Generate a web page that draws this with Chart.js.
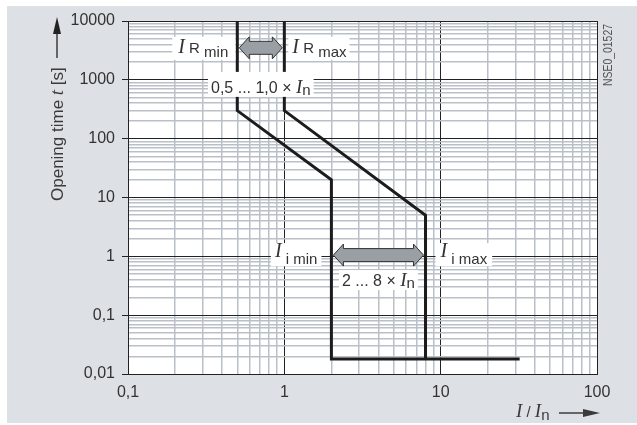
<!DOCTYPE html>
<html><head><meta charset="utf-8">
<script src="https://cdn.jsdelivr.net/npm/chart.js@4/dist/chart.umd.min.js"></script>
<style>html,body{margin:0;padding:0;background:#fff;}canvas{display:block;}</style>
</head><body>
<canvas id="c" width="637" height="425"></canvas>
<script>
// ---- data ----
const xMajorValues = [0.1, 1, 10, 100];
const xTickLabels = ['0,1', '1', '10', '100'];
const yMajorValues = [0.01, 0.1, 1, 10, 100, 1000, 10000];
const yTickLabels = ['0,01', '0,1', '1', '10', '100', '1000', '10000'];

const minCurveI = [0.5, 0.5, 2, 2, 32];
const minCurveT = [10000, 300, 20, 0.018, 0.018];
const maxCurveI = [1, 1, 8, 8];
const maxCurveT = [10000, 300, 5, 0.018];

// annotation anchors (data units)
const rangeR = [0.5, 1];
const rangeI = [2, 8];
const arrowRT = 3500;
const rangeRTextT = 730;
const arrowIT = 1.05;
const rangeITextT = 0.38;

const yTitle = 'Opening time ';
const drawingId = 'NSE0_01527';

// ---- helpers ----
function gridValues(majors) {
  const out = [];
  for (let i = 0; i < majors.length - 1; i++) {
    for (let k = 1; k <= 9; k++) out.push(Number((k * majors[i]).toPrecision(12)));
  }
  out.push(majors[majors.length - 1]);
  return out;
}
function isMajor(v) { const l = Math.log10(v); return Math.abs(l - Math.round(l)) < 1e-9; }
function labelFor(v, majors, labels) {
  for (let i = 0; i < majors.length; i++) if (Math.abs(v / majors[i] - 1) < 1e-9) return labels[i];
  return '';
}
const SANS = '"Liberation Sans", Arial, Helvetica, sans-serif';
const SERIF = '"Liberation Serif", "Times New Roman", serif';
const TXT = '#333';

function richWidth(ctx, segs) { let w = 0; segs.forEach(s => { ctx.font = s.font; w += ctx.measureText(s.t).width; }); return w; }
function drawRich(ctx, segs, x, base) {
  let cx = x;
  segs.forEach(s => { ctx.font = s.font; ctx.fillStyle = s.color || TXT; ctx.fillText(s.t, cx, base + (s.dy || 0)); cx += ctx.measureText(s.t).width; });
}
function label(ctx, segs, x, align, base, boxTop, boxBot, padL, padR) {
  const w = richWidth(ctx, segs);
  let left = align === 'right' ? x - w : align === 'center' ? x - w / 2 : x;
  ctx.fillStyle = '#fff';
  ctx.fillRect(left - padL, boxTop, w + padL + padR, boxBot - boxTop);
  ctx.textAlign = 'left'; ctx.textBaseline = 'alphabetic';
  drawRich(ctx, segs, left, base);
}
function dblArrow(ctx, x1, x2, y) {
  const hb = 6.5, hh = 11, hl = 10;
  ctx.beginPath();
  ctx.moveTo(x1, y);
  ctx.lineTo(x1 + hl, y - hh);
  ctx.lineTo(x1 + hl, y - hb);
  ctx.lineTo(x2 - hl, y - hb);
  ctx.lineTo(x2 - hl, y - hh);
  ctx.lineTo(x2, y);
  ctx.lineTo(x2 - hl, y + hh);
  ctx.lineTo(x2 - hl, y + hb);
  ctx.lineTo(x1 + hl, y + hb);
  ctx.lineTo(x1 + hl, y + hh);
  ctx.closePath();
  ctx.fillStyle = '#9a9fa5';
  ctx.fill();
  ctx.strokeStyle = '#333';
  ctx.lineWidth = 1;
  ctx.stroke();
}

const bgPlugin = {
  id: 'bg',
  beforeDraw(chart) {
    const ctx = chart.ctx, a = chart.chartArea;
    ctx.save();
    ctx.fillStyle = '#fff';
    ctx.fillRect(0, 0, chart.width, chart.height);
    ctx.fillStyle = '#dde1e5';
    ctx.fillRect(7, 6, chart.width - 7, 417);
    ctx.fillStyle = '#fff';
    ctx.fillRect(a.left, a.top, a.right - a.left, a.bottom - a.top);
    ctx.restore();
  }
};

const annoPlugin = {
  id: 'anno',
  afterDatasetsDraw(chart) {
    const ctx = chart.ctx, xs = chart.scales.x, ys = chart.scales.y;
    const px = v => xs.getPixelForValue(v), py = v => ys.getPixelForValue(v);
    ctx.save();
    const iBig = 'italic 20px ' + SERIF, sub = '15px ' + SANS, num = '16px ' + SANS;

    // R range
    const yR = py(arrowRT);
    dblArrow(ctx, px(rangeR[0]) + 2, px(rangeR[1]) - 2, yR);
    label(ctx, [{t: 'I', font: iBig}, {t: ' R', font: sub}, {t: ' min', font: sub, dy: 4}],
      px(rangeR[0]) - 9, 'right', yR + 5, yR - 11, yR + 12, 6, 7);
    label(ctx, [{t: 'I', font: iBig}, {t: ' R', font: sub}, {t: ' max', font: sub, dy: 4}],
      px(rangeR[1]) + 8, 'left', yR + 5, yR - 11, yR + 12, 4, 3);
    const yRt = py(rangeRTextT);
    label(ctx, [{t: '0,5 ... 1,0 \u00d7 ', font: num}, {t: 'I', font: 'italic 19px ' + SERIF}, {t: 'n', font: sub, dy: 2}],
      px(Math.sqrt(rangeR[0] * rangeR[1])), 'center', yRt + 5.5, yRt - 16, yRt + 9, 3, 3);

    // I range
    const yI = py(arrowIT);
    dblArrow(ctx, px(rangeI[0]) + 2, px(rangeI[1]) - 2, yI);
    label(ctx, [{t: 'I', font: iBig}, {t: ' i min', font: sub, dy: 7}],
      px(rangeI[0]) - 14, 'right', yI + 2, yI - 12, yI + 11, 4, 4);
    label(ctx, [{t: 'I', font: iBig}, {t: ' i max', font: sub, dy: 7}],
      px(rangeI[1]) + 15, 'left', yI + 2, yI - 12, yI + 11, 5, 5);
    const yIt = py(rangeITextT);
    label(ctx, [{t: '2 ... 8 \u00d7 ', font: num}, {t: 'I', font: 'italic 19px ' + SERIF}, {t: 'n', font: sub, dy: 2}],
      px(Math.sqrt(rangeI[0] * rangeI[1])), 'center', yIt + 5, yIt - 11, yIt + 9, 3, 3);
    ctx.restore();
  },
  afterDraw(chart) {
    const ctx = chart.ctx;
    ctx.save();
    // y axis title
    ctx.translate(57, 201);
    ctx.rotate(-Math.PI / 2);
    ctx.textAlign = 'left'; ctx.textBaseline = 'alphabetic';
    drawRich(ctx, [{t: yTitle, font: '17px ' + SANS, color: '#3a3a3a'}, {t: 't', font: 'italic 19px ' + SERIF, color: '#3a3a3a'}, {t: ' [s]', font: '17px ' + SANS, color: '#3a3a3a'}], 0, 6);
    ctx.restore();
    ctx.save();
    ctx.strokeStyle = '#222'; ctx.fillStyle = '#222'; ctx.lineWidth = 1.3;
    ctx.beginPath(); ctx.moveTo(57, 58); ctx.lineTo(57, 30); ctx.stroke();
    ctx.beginPath(); ctx.moveTo(57, 17); ctx.lineTo(61, 34); ctx.lineTo(53, 34); ctx.closePath(); ctx.fill();
    // x axis title
    ctx.textAlign = 'left'; ctx.textBaseline = 'alphabetic';
    drawRich(ctx, [{t: 'I', font: 'italic 19px ' + SERIF, color: '#3a3a3a'}, {t: ' / ', font: '15px ' + SANS, color: '#3a3a3a'}, {t: 'I', font: 'italic 19px ' + SERIF, color: '#3a3a3a'}, {t: 'n', font: '15px ' + SANS, color: '#3a3a3a', dy: 3}], 516, 417);
    ctx.beginPath(); ctx.moveTo(559, 413); ctx.lineTo(586, 413); ctx.stroke();
    ctx.beginPath(); ctx.moveTo(600, 413); ctx.lineTo(583, 409); ctx.lineTo(583, 417); ctx.closePath(); ctx.fill();
    ctx.restore();
    // drawing id
    ctx.save();
    ctx.translate(612, 86);
    ctx.rotate(-Math.PI / 2);
    ctx.font = '12px ' + SANS;
    const w = ctx.measureText(drawingId).width;
    ctx.scale(62 / w, 1);
    ctx.fillStyle = '#555';
    ctx.textAlign = 'left'; ctx.textBaseline = 'alphabetic';
    ctx.fillText(drawingId, 0, 0);
    ctx.restore();
  }
};

const xGrid = gridValues(xMajorValues);
const yGrid = gridValues(yMajorValues);

new Chart(document.getElementById('c'), {
  type: 'line',
  data: {
    datasets: [
      { data: minCurveI.map((v, i) => ({x: v, y: minCurveT[i]})) },
      { data: maxCurveI.map((v, i) => ({x: v, y: maxCurveT[i]})) }
    ]
  },
  options: {
    responsive: false,
    animation: false,
    devicePixelRatio: 1,
    layout: { padding: { left: 0, top: 21, right: 40, bottom: 0 } },
    elements: {
      line: { borderColor: '#1c1c1c', borderWidth: 3, tension: 0, borderJoinStyle: 'miter', borderCapStyle: 'butt', fill: false },
      point: { radius: 0 }
    },
    plugins: { legend: { display: false }, tooltip: { enabled: false } },
    scales: {
      x: {
        type: 'logarithmic', min: 0.1, max: 100,
        afterBuildTicks: s => { s.ticks = xGrid.map(v => ({value: v, major: isMajor(v)})); },
        afterFit: s => { s.height = 51; },
        ticks: { autoSkip: false, maxRotation: 0, padding: 9, color: TXT, font: {family: SANS, size: 16},
          callback: v => labelFor(v, xMajorValues, xTickLabels) },
        grid: { drawTicks: false,
          color: c => (c.tick && isMajor(c.tick.value)) ? '#222' : '#bac0c7',
          lineWidth: c => (c.tick && isMajor(c.tick.value)) ? 1 : 1.5 },
        border: { display: true, color: '#222', width: 1 }
      },
      y: {
        type: 'logarithmic', min: 0.01, max: 10000,
        afterBuildTicks: s => { s.ticks = yGrid.map(v => ({value: v, major: isMajor(v)})); },
        afterFit: s => { s.width = 128; },
        ticks: { autoSkip: false, padding: 7, color: TXT, font: {family: SANS, size: 16},
          callback: v => labelFor(v, yMajorValues, yTickLabels) },
        grid: { drawTicks: true, tickLength: 6,
          color: c => (c.tick && isMajor(c.tick.value)) ? '#222' : '#bac0c7',
          tickColor: c => (c.tick && isMajor(c.tick.value)) ? '#222' : 'rgba(0,0,0,0)',
          lineWidth: c => (c.tick && isMajor(c.tick.value)) ? 1 : 1.5 },
        border: { display: true, color: '#222', width: 1 }
      }
    }
  },
  plugins: [bgPlugin, annoPlugin]
});
</script>
</body></html>
